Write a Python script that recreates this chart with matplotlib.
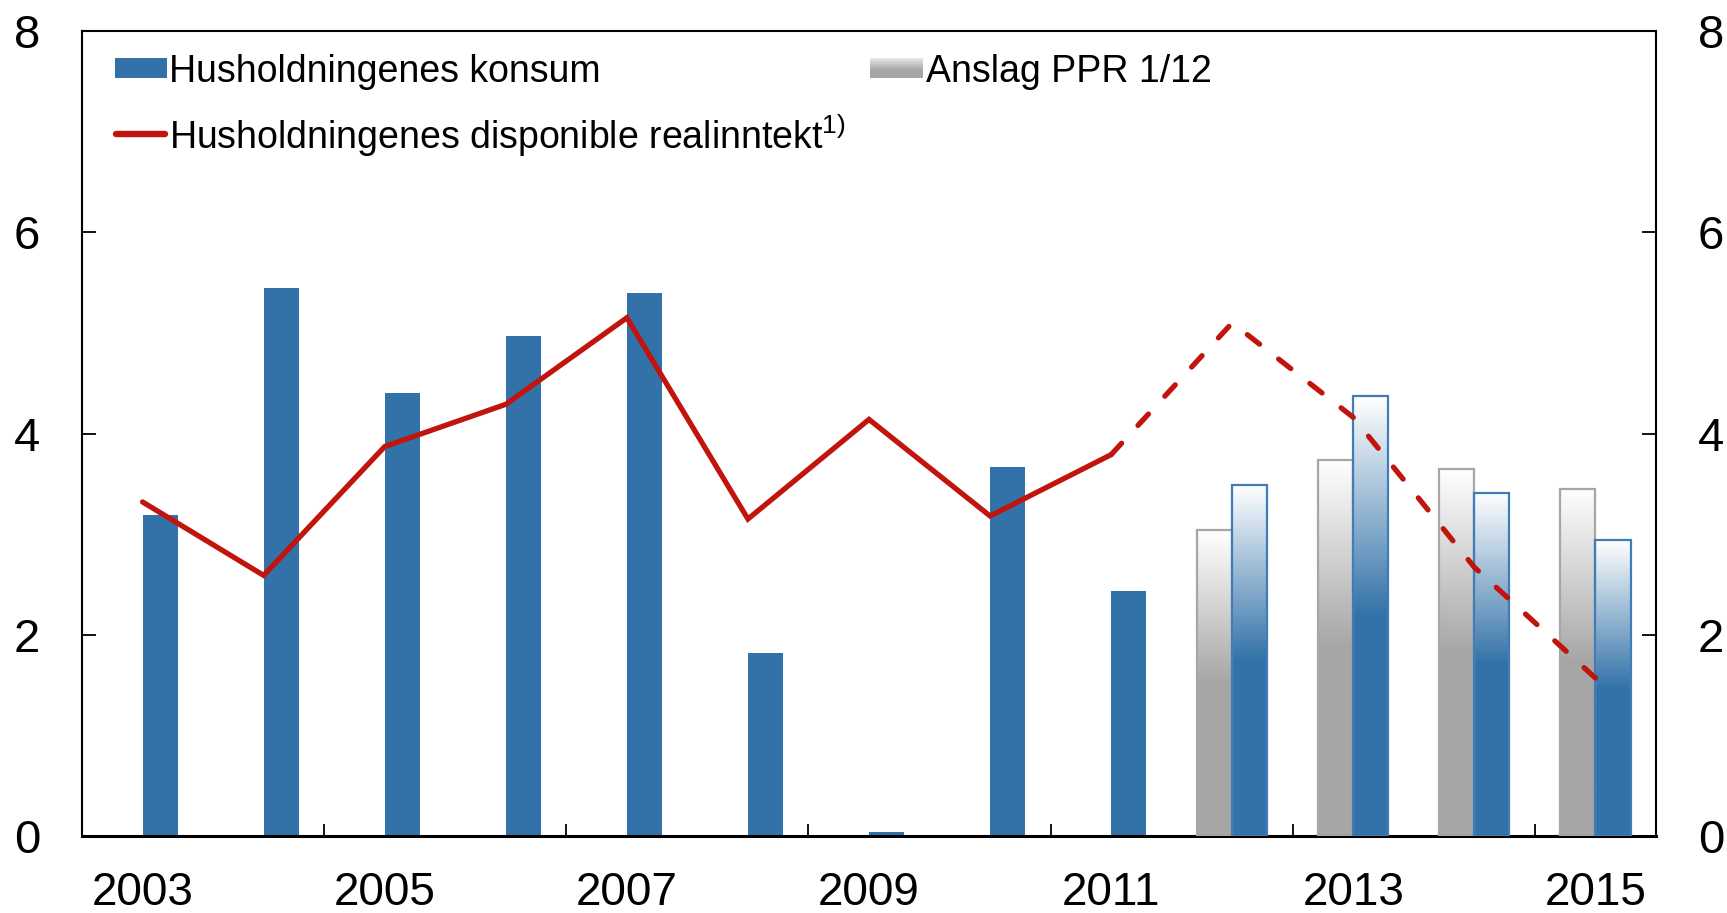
import numpy as np
import matplotlib
matplotlib.use("Agg")
import matplotlib.pyplot as plt
from matplotlib.colors import to_rgb
from matplotlib.lines import Line2D
from matplotlib.patches import Rectangle

# ---------------- data ----------------
years = [2003, 2004, 2005, 2006, 2007, 2008, 2009, 2010, 2011, 2012, 2013, 2014, 2015]
konsum = [3.19, 5.45, 4.40, 4.97, 5.40, 1.82, 0.04, 3.67, 2.43, 3.49, 4.37, 3.41, 2.94]
anslag_ppr = [np.nan] * 9 + [3.04, 3.74, 3.65, 3.45]
realinntekt = [3.32, 2.59, 3.87, 4.29, 5.15, 3.15, 4.14, 3.18, 3.79, 5.10, 4.16, 2.67, 1.57]
first_forecast_year = 2012
label_years = [2003, 2005, 2007, 2009, 2011, 2013, 2015]
yticks = [0, 2, 4, 6, 8]

legend_konsum = "Husholdningenes konsum"
legend_ppr = "Anslag PPR 1/12"
legend_inntekt = r"Husholdningenes disponible realinntekt$^{\mathrm{1)}}$"

# ---------------- style ----------------
BLUE = "#3372A8"
BLUE_EDGE = "#3F7DB8"
GRAY = "#A6A6A6"
RED = "#C0140C"
FONT = "Liberation Sans"
LW = 3.8

plt.rcParams["font.family"] = [FONT, "DejaVu Sans"]
plt.rcParams["mathtext.fontset"] = "custom"
plt.rcParams["mathtext.rm"] = FONT
plt.rcParams["mathtext.it"] = FONT

W, H = 1727, 913
DPI = 100
fig = plt.figure(figsize=(W / DPI, H / DPI), dpi=DPI)
ax = fig.add_axes([82 / W, 1 - 836 / H, (1656 - 82) / W, (836 - 31) / H])

x = np.arange(len(years))
is_fc = np.array([y >= first_forecast_year for y in years])
BW = 0.29


def vgrad(color, n=256, solid_from=0.5, top=(1, 1, 1)):
    c = np.array(to_rgb(color))
    t = np.linspace(0, 1, n)[:, None]
    f = np.clip(t / solid_from, 0, 1)
    img = np.array(top)[None, :] * (1 - f) + c[None, :] * f
    return img[:, None, :]


# axes limits first (needed for dash fitting)
ax.set_xlim(-0.5, len(years) - 0.5)
ax.set_ylim(0, 8)

# historical bars (solid)
ax.bar(x[~is_fc], np.array(konsum)[~is_fc], width=BW, align="edge",
       color=BLUE, edgecolor="none", zorder=2)

# forecast bars (gradient)
gray_bars = ax.bar(x[is_fc], np.array(anslag_ppr)[is_fc], width=-BW, align="edge",
                   facecolor="none", edgecolor=GRAY, linewidth=1.6, zorder=3)
blue_bars = ax.bar(x[is_fc], np.array(konsum)[is_fc], width=BW, align="edge",
                   facecolor="none", edgecolor=BLUE_EDGE, linewidth=1.6, zorder=3)
for bars, col in ((gray_bars, GRAY), (blue_bars, BLUE)):
    for p in bars.patches:
        x0, w, h = p.get_x(), p.get_width(), p.get_height()
        ax.imshow(vgrad(col), extent=[x0, x0 + w, 0, h], aspect="auto",
                  origin="upper", zorder=2.5, interpolation="bilinear")
ax.set_xlim(-0.5, len(years) - 0.5)
ax.set_ylim(0, 8)

# line: solid for history, dashed for forecast
ri = np.array(realinntekt)
k = int(np.argmax(is_fc))  # index of first forecast
ax.plot(x[:k], ri[:k], color=RED, lw=LW, solid_capstyle="round",
        solid_joinstyle="miter", zorder=4)

# fit the dash pattern so it starts and ends with a dash
xd, yd = x[k - 1:], ri[k - 1:]
pts = ax.transData.transform(np.column_stack([xd, yd]))
L_pt = np.sum(np.hypot(*np.diff(pts, axis=0).T)) * 72 / DPI / LW  # in lw units
on, off = 3.0, 4.7
n = max(1, round((L_pt - on) / (on + off)))
s = L_pt / (n * (on + off) + on)
ax.plot(xd, yd, color=RED, lw=LW, dashes=(on * s, off * s),
        dash_capstyle="round", zorder=4)

# axes
ax.set_yticks(yticks)
ax.set_yticklabels([str(v) for v in yticks])
ax.set_xticks([years.index(y) for y in label_years])
ax.set_xticklabels([str(y) for y in label_years])
ax.set_xticks(np.arange(1.5, len(years) - 1, 2), minor=True)
ax.tick_params(axis="x", which="major", length=0, pad=25, labelsize=33)
ax.tick_params(axis="x", which="minor", direction="in", length=9, width=1.3)
ax.tick_params(axis="y", which="major", direction="in", length=10, width=1.3,
               left=True, right=True, labelleft=True, labelright=True,
               pad=30, labelsize=34)
for sp in ("left", "right", "top"):
    ax.spines[sp].set_linewidth(1.5)
ax.spines["bottom"].set_linewidth(2.2)


# ---------------- legend (manual) ----------------
def fx(px):
    return px / W


def fy(py):
    return 1 - py / H


fig.patches.append(Rectangle((fx(115), fy(78)), fx(167) - fx(115), fy(58) - fy(78),
                             transform=fig.transFigure, facecolor=BLUE,
                             edgecolor="none", zorder=5))
fig.text(fx(169), fy(82), legend_konsum, fontsize=27, ha="left", va="baseline")

sw = fig.add_axes([fx(870), fy(78), fx(923) - fx(870), fy(58) - fy(78)])
sw.imshow(vgrad(GRAY, solid_from=0.6, top=(0.92, 0.92, 0.92)), aspect="auto",
          interpolation="bilinear")
sw.set_axis_off()
fig.text(fx(926), fy(82), legend_ppr, fontsize=27, ha="left", va="baseline")

fig.lines.append(Line2D([fx(116), fx(165)], [fy(134), fy(134)],
                        transform=fig.transFigure, color=RED, lw=4.6,
                        solid_capstyle="round"))
fig.text(fx(169), fy(149), legend_inntekt, fontsize=27, ha="left", va="baseline")

fig.savefig("out.png", dpi=DPI)
